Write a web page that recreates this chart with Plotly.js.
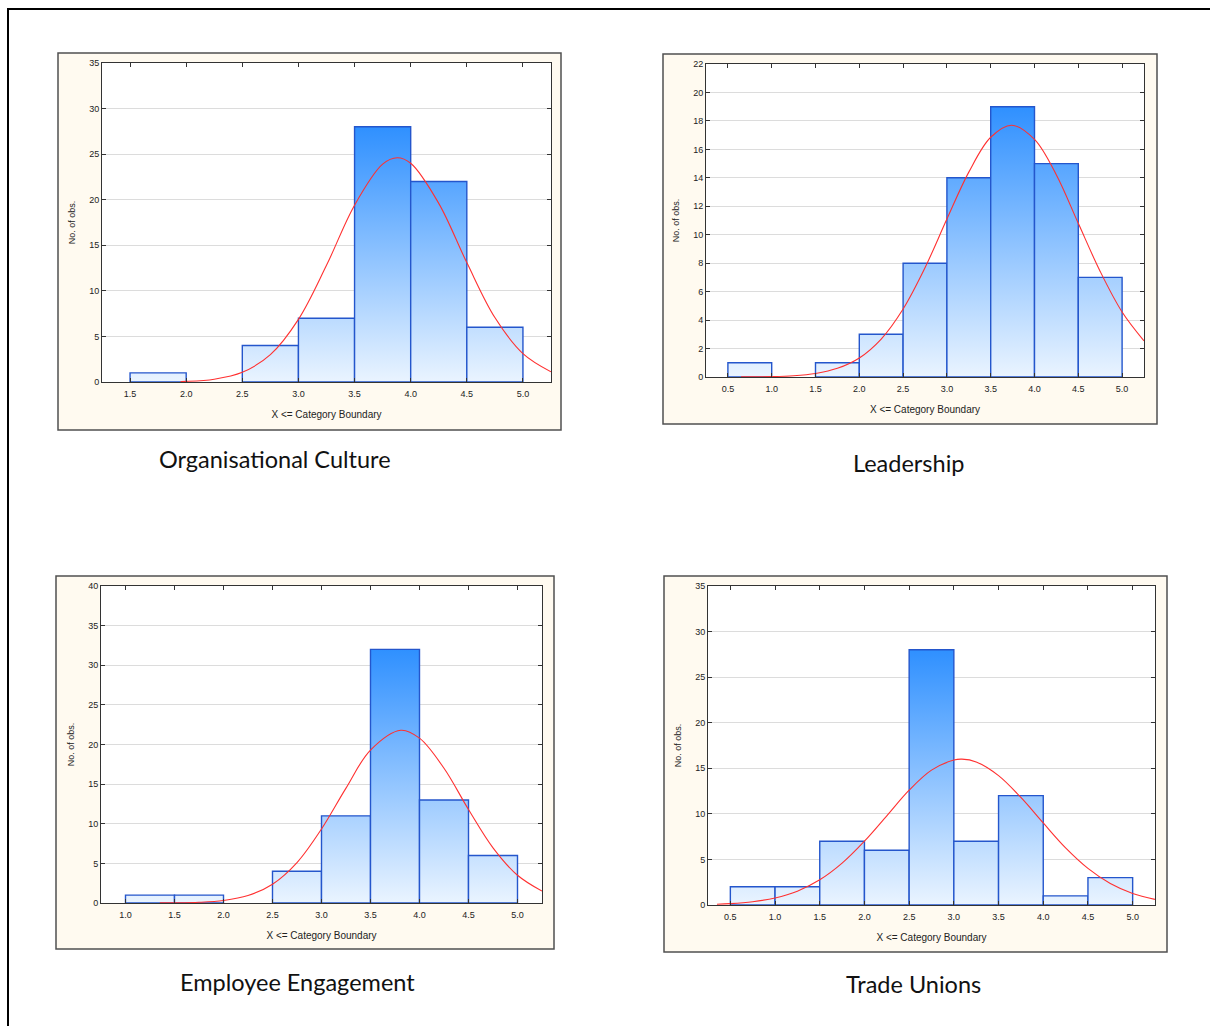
<!DOCTYPE html>
<html>
<head>
<meta charset="utf-8">
<script src="https://cdn.plot.ly/plotly-3.0.1.min.js"></script>
<style>
  html, body { margin: 0; padding: 0; background: #ffffff; }
  #chart { width: 1210px; height: 1026px; }
</style>
</head>
<body>
<div id="chart"></div>
<script>
// ---------- DATA ----------
const panelTitles = ["Organisational Culture", "Leadership", "Employee Engagement", "Trade Unions"];
const xAxisTitle = "X <= Category Boundary";
const yAxisTitle = "No. of obs.";

// Organisational Culture
const ocEdges  = [1.5, 2.0, 2.5, 3.0, 3.5, 4.0, 4.5, 5.0];
const ocCounts = [1, 0, 4, 7, 28, 22, 6];
const ocCurveX = [1.95, 2.0, 2.25, 2.5, 2.75, 3.0, 3.25, 3.5, 3.75, 3.88, 4.0, 4.25, 4.5, 4.75, 5.0, 5.25];
const ocCurveY = [0.06, 0.07, 0.31, 1.07, 3.0, 6.87, 12.8, 19.4, 23.9, 24.6, 24.0, 19.6, 13.1, 7.07, 3.12, 1.12];

// Leadership
const ldEdges  = [0.5, 1.0, 1.5, 2.0, 2.5, 3.0, 3.5, 4.0, 4.5, 5.0];
const ldCounts = [1, 0, 1, 3, 8, 14, 19, 15, 7];
const ldCurveX = [0.65, 1.0, 1.25, 1.5, 1.75, 2.0, 2.25, 2.5, 2.75, 3.0, 3.25, 3.5, 3.74, 4.0, 4.25, 4.5, 4.75, 5.0, 5.25];
const ldCurveY = [0.01, 0.03, 0.09, 0.25, 0.61, 1.34, 2.67, 4.78, 7.68, 11.1, 14.4, 16.85, 17.7, 16.7, 14.2, 10.8, 7.42, 4.57, 2.54];

// Employee Engagement
const eeEdges  = [1.0, 1.5, 2.0, 2.5, 3.0, 3.5, 4.0, 4.5, 5.0];
const eeCounts = [1, 1, 0, 4, 11, 32, 13, 6];
const eeCurveX = [1.35, 1.5, 1.75, 2.0, 2.25, 2.5, 2.75, 3.0, 3.25, 3.5, 3.81, 4.0, 4.25, 4.5, 4.75, 5.0, 5.25];
const eeCurveY = [0.01, 0.02, 0.09, 0.32, 0.94, 2.37, 5.1, 9.34, 14.5, 19.3, 21.8, 20.8, 17.0, 11.8, 6.96, 3.5, 1.5];

// Trade Unions
const tuEdges  = [0.5, 1.0, 1.5, 2.0, 2.5, 3.0, 3.5, 4.0, 4.5, 5.0];
const tuCounts = [2, 2, 7, 6, 28, 7, 12, 1, 3];
const tuCurveX = [0.35, 0.5, 0.75, 1.0, 1.25, 1.5, 1.75, 2.0, 2.25, 2.5, 2.75, 3.0, 3.09, 3.25, 3.5, 3.75, 4.0, 4.25, 4.5, 4.75, 5.0, 5.25];
const tuCurveY = [0.09, 0.15, 0.36, 0.77, 1.52, 2.76, 4.59, 7.0, 9.79, 12.6, 14.8, 15.9, 16.0, 15.7, 14.2, 11.8, 9.0, 6.27, 4.02, 2.36, 1.27, 0.62];

const xRanges = [[1.25, 5.25], [0.25, 5.25], [0.75, 5.25], [0.25, 5.25]];
const yRanges = [[0, 35], [0, 22], [0, 40], [0, 35]];
const yDticks = [5, 2, 5, 5];

// ---------- LAYOUT GEOMETRY (pixels in a 1210x1026 page) ----------
const W = 1210, H = 1026;
const panels = [
  { box: [58, 53, 561, 430],  plot: [102, 63, 551, 382],  cap: [275, 459] },
  { box: [663, 54, 1157, 424], plot: [706, 64, 1144, 377], cap: [908, 463] },
  { box: [56, 576, 554, 949], plot: [101, 586, 542, 903], cap: [297, 982] },
  { box: [664, 576, 1167, 952], plot: [708, 586, 1155, 905], cap: [914, 984] }
];
const px = v => v / W;
const py = v => 1 - v / H;

const datasets = [
  { edges: ocEdges, counts: ocCounts, cx: ocCurveX, cy: ocCurveY },
  { edges: ldEdges, counts: ldCounts, cx: ldCurveX, cy: ldCurveY },
  { edges: eeEdges, counts: eeCounts, cx: eeCurveX, cy: eeCurveY },
  { edges: tuEdges, counts: tuCounts, cx: tuCurveX, cy: tuCurveY }
];

const tickFont = { family: 'Liberation Sans, Arial, sans-serif', size: 9, color: '#222222' };
const xTitleFont = { family: 'Liberation Sans, Arial, sans-serif', size: 10, color: '#222222' };

const traces = [];
const layout = {
  width: W, height: H,
  margin: { l: 0, r: 0, t: 0, b: 0 },
  paper_bgcolor: '#ffffff',
  plot_bgcolor: 'rgba(0,0,0,0)',
  showlegend: false,
  shapes: [],
  annotations: [],
  font: tickFont
};

// outer frame
layout.shapes.push({
  type: 'rect', xref: 'paper', yref: 'paper', layer: 'below',
  x0: px(8), x1: px(1214), y0: py(1030), y1: py(9),
  line: { color: '#000000', width: 2 }, fillcolor: 'rgba(0,0,0,0)'
});

datasets.forEach((d, i) => {
  const n = i + 1;
  const xa = n === 1 ? 'x' : 'x' + n;
  const ya = n === 1 ? 'y' : 'y' + n;
  const p = panels[i];
  const maxC = Math.max(...d.counts);

  // panel background box (cream) and white plot area
  layout.shapes.push({
    type: 'rect', xref: 'paper', yref: 'paper', layer: 'below',
    x0: px(p.box[0]), x1: px(p.box[2]), y0: py(p.box[3]), y1: py(p.box[1]),
    line: { color: '#505050', width: 1.5 }, fillcolor: '#fffaf0'
  });
  layout.shapes.push({
    type: 'rect', xref: 'paper', yref: 'paper', layer: 'below',
    x0: px(p.plot[0]), x1: px(p.plot[2]), y0: py(p.plot[3]), y1: py(p.plot[1]),
    line: { width: 0 }, fillcolor: '#ffffff'
  });

  // histogram bars as gradient-filled outlines
  d.counts.forEach((c, k) => {
    if (c <= 0) return;
    const a = d.edges[k], b = d.edges[k + 1];
    traces.push({
      type: 'scatter', mode: 'lines', xaxis: xa, yaxis: ya,
      x: [a, a, b, b, a], y: [0, c, c, 0, 0],
      fill: 'toself',
      fillcolor: '#9cc8f8',
      fillgradient: {
        type: 'vertical', start: 0, stop: maxC,
        colorscale: [[0, '#eaf4ff'], [1, '#2f90ff']]
      },
      line: { color: '#2456cc', width: 1.4 },
      hoverinfo: 'skip'
    });
  });

  // fitted normal curve
  traces.push({
    type: 'scatter', mode: 'lines', xaxis: xa, yaxis: ya,
    x: d.cx, y: d.cy,
    line: { color: '#ff3030', width: 1.1, shape: 'spline', smoothing: 1 },
    hoverinfo: 'skip'
  });

  const axKeyX = n === 1 ? 'xaxis' : 'xaxis' + n;
  const axKeyY = n === 1 ? 'yaxis' : 'yaxis' + n;
  layout[axKeyX] = {
    domain: [px(p.plot[0]), px(p.plot[2])],
    anchor: ya,
    range: xRanges[i],
    tick0: 0.5, dtick: 0.5, tickformat: '.1f',
    showgrid: false, zeroline: false,
    showline: true, linecolor: '#333333', linewidth: 1, mirror: 'ticks',
    ticks: 'inside', ticklen: 4, tickcolor: '#333333',
    ticklabelstandoff: 3,
    tickfont: tickFont,
    title: { text: xAxisTitle, standoff: 13, font: xTitleFont },
    fixedrange: true
  };
  layout[axKeyY] = {
    domain: [py(p.plot[3]), py(p.plot[1])],
    anchor: xa,
    range: yRanges[i],
    dtick: yDticks[i], tick0: 0,
    showgrid: true, gridcolor: '#dcdcdc', gridwidth: 1,
    zeroline: false,
    showline: true, linecolor: '#333333', linewidth: 1, mirror: 'ticks',
    ticks: 'inside', ticklen: 4, tickcolor: '#333333',
    tickfont: tickFont,
    title: { text: yAxisTitle, standoff: 12, font: tickFont },
    fixedrange: true
  };

  layout.annotations.push({
    xref: 'paper', yref: 'paper', x: px(p.cap[0]), y: py(p.cap[1]),
    text: panelTitles[i], showarrow: false, xanchor: 'center', yanchor: 'middle',
    font: { family: 'Lato, Open Sans, sans-serif', size: 23.5, color: '#111111' }
  });
});

Plotly.newPlot('chart', traces, layout, { staticPlot: true, displayModeBar: false });
</script>
</body>
</html>
